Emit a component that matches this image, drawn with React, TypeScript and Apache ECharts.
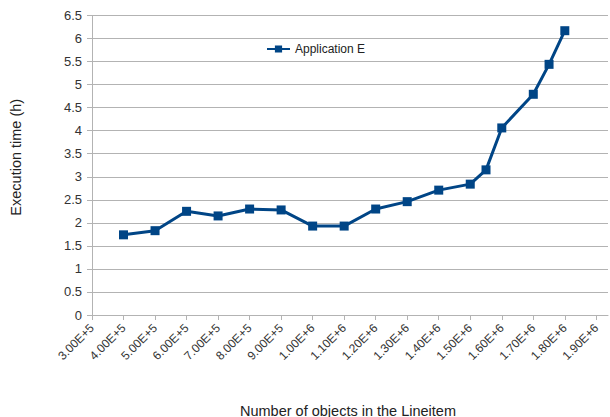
import React, { useEffect, useRef } from "react";
import * as echarts from "echarts";

// Number of objects in the Lineitem table
const objectCounts = [
  400000, 500000, 600000, 700000, 800000, 900000, 1000000, 1100000, 1200000,
  1300000, 1400000, 1500000, 1550000, 1600000, 1700000, 1750000, 1800000,
];
// Execution time in hours for Application E
const executionHours = [
  1.74, 1.83, 2.25, 2.15, 2.3, 2.28, 1.93, 1.93, 2.3, 2.46, 2.71, 2.84, 3.15,
  4.06, 4.79, 5.44, 6.17,
];
const seriesName = "Application E";

const FONT = "'Liberation Sans', Arial, sans-serif";
const LINE_BLUE = "#004586";
const GRID_GRAY = "#b3b3b3";
const TEXT = "#333333";

function formatSci(v: number): string {
  if (v % 100000 !== 0) return "";
  const exp = Math.floor(Math.log10(v));
  const mant = v / Math.pow(10, exp);
  return `${mant.toFixed(2)}E+${exp}`;
}

export default function App() {
  const ref = useRef<HTMLDivElement>(null);

  useEffect(() => {
    if (!ref.current) return;
    const chart = echarts.init(ref.current, null, { renderer: "svg" });
    const points = objectCounts.map((x, i) => [x, executionHours[i]]);
    chart.setOption({
      animation: false,
      backgroundColor: "#ffffff",
      textStyle: { fontFamily: FONT },
      grid: {
        left: 92,
        right: 2,
        top: 15.5,
        bottom: 102,
        containLabel: false,
        outerBoundsMode: "none",
      },
      legend: {
        left: 261,
        top: 38,
        itemWidth: 23,
        itemHeight: 9,
        itemGap: 2,
        textStyle: { fontFamily: FONT, fontSize: 12, color: "#222" },
        data: [seriesName],
      },
      xAxis: {
        type: "value",
        min: 300000,
        max: 1937000,
        interval: 100000,
        name: "Number of objects in the Lineitem",
        nameLocation: "middle",
        nameGap: 88,
        nameTextStyle: { fontFamily: FONT, fontSize: 14.5, color: "#222", padding: [0, 4, 0, 0] },
        axisLine: { show: true, lineStyle: { color: GRID_GRAY, width: 1 } },
        axisTick: { show: true, length: 5, lineStyle: { color: GRID_GRAY } },
        splitLine: { show: false },
        axisLabel: {
          rotate: 45,
          margin: 11,
          fontFamily: FONT,
          fontSize: 12,
          color: TEXT,
          showMaxLabel: false,
          formatter: (v: number) => formatSci(v),
        },
      },
      yAxis: {
        type: "value",
        min: 0,
        max: 6.5,
        interval: 0.5,
        name: "Execution time (h)",
        nameLocation: "middle",
        nameGap: 69,
        nameTextStyle: { fontFamily: FONT, fontSize: 14.5, color: "#222", padding: [0, 0, 0, 16] },
        axisLine: { show: true, lineStyle: { color: GRID_GRAY, width: 1 } },
        axisTick: { show: true, length: 5, lineStyle: { color: GRID_GRAY } },
        splitLine: { show: true, lineStyle: { color: GRID_GRAY, width: 1 } },
        axisLabel: {
          margin: 10,
          fontFamily: FONT,
          fontSize: 13,
          color: TEXT,
          formatter: (v: number) => String(v),
        },
      },
      series: [
        {
          name: seriesName,
          type: "line",
          data: points,
          symbol: "rect",
          symbolSize: 9,
          lineStyle: { color: LINE_BLUE, width: 3 },
          itemStyle: { color: LINE_BLUE },
        },
      ],
    });
    return () => chart.dispose();
  }, []);

  return <div ref={ref} style={{ width: 610, height: 417, position: "absolute", left: 0, top: 0 }} />;
}
